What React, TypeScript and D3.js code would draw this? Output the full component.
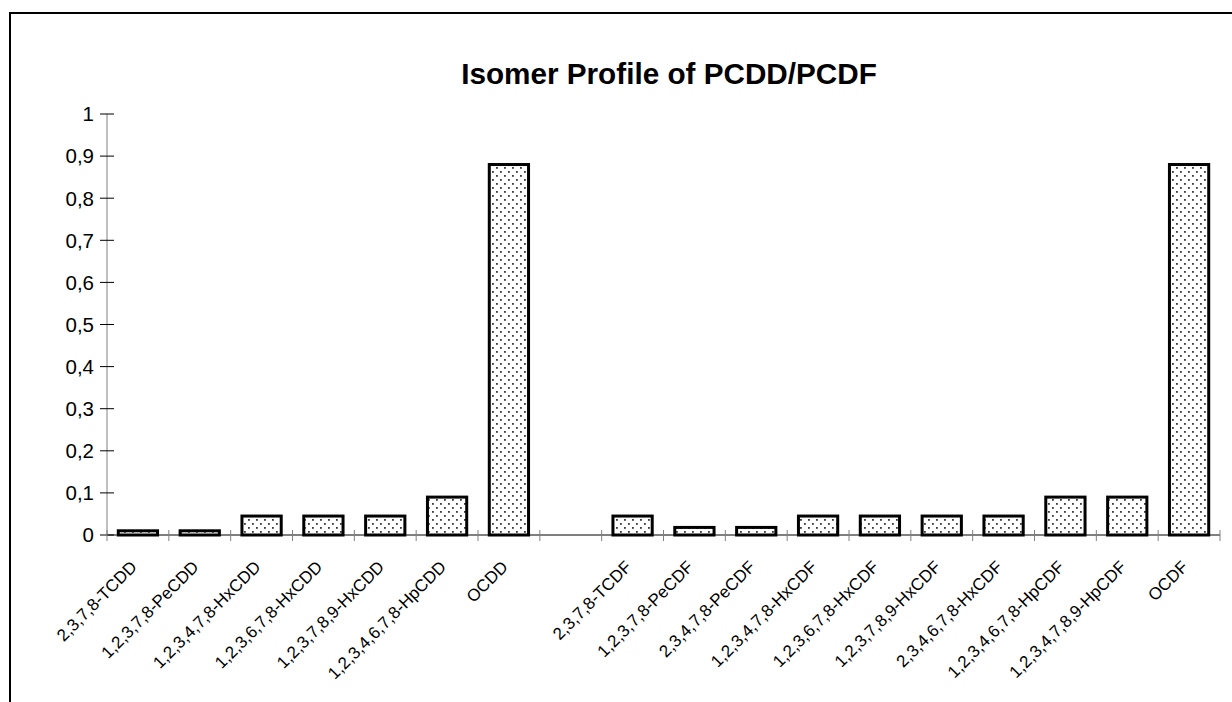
import React, { useEffect, useRef } from 'react';
import * as d3 from 'd3';

// isomer names, "" is the gap between the PCDD and PCDF groups
const categories = [
    '2,3,7,8-TCDD',
    '1,2,3,7,8-PeCDD',
    '1,2,3,4,7,8-HxCDD',
    '1,2,3,6,7,8-HxCDD',
    '1,2,3,7,8,9-HxCDD',
    '1,2,3,4,6,7,8-HpCDD',
    'OCDD',
    '',
    '2,3,7,8-TCDF',
    '1,2,3,7,8-PeCDF',
    '2,3,4,7,8-PeCDF',
    '1,2,3,4,7,8-HxCDF',
    '1,2,3,6,7,8-HxCDF',
    '1,2,3,7,8,9-HxCDF',
    '2,3,4,6,7,8-HxCDF',
    '1,2,3,4,6,7,8-HpCDF',
    '1,2,3,4,7,8,9-HpCDF',
    'OCDF',
];
const values = [
    0.01, 0.01, 0.045, 0.045, 0.045, 0.09, 0.88,
    null,
    0.045, 0.018, 0.018, 0.045, 0.045, 0.045, 0.045, 0.09, 0.09, 0.88,
];
const yTicks = [0, 0.1, 0.2, 0.3, 0.4, 0.5, 0.6, 0.7, 0.8, 0.9, 1];
const title = 'Isomer Profile of PCDD/PCDF';

const App = () => {
    const ref = useRef(null);
    const svgWidth = 1232;
    const svgHeight = 702;

    useEffect(() => {
        const svg = d3.select(ref.current);
        svg.selectAll('*').remove();

        const margin = { top: 114, left: 107, right: 12, bottom: 167 };
        const width = svgWidth - margin.left - margin.right;
        const height = svgHeight - margin.top - margin.bottom;

        // dotted fill like the old spreadsheet pattern
        const defs = svg.append('defs');
        const pat = defs.append('pattern')
            .attr('id', 'dots')
            .attr('patternUnits', 'userSpaceOnUse')
            .attr('width', 8)
            .attr('height', 8);
        pat.append('rect').attr('width', 8).attr('height', 8).attr('fill', '#fff');
        pat.append('rect').attr('x', 1).attr('y', 1).attr('width', 1.8).attr('height', 1.8).attr('fill', '#3a3a3a');
        pat.append('rect').attr('x', 5).attr('y', 5).attr('width', 1.8).attr('height', 1.8).attr('fill', '#3a3a3a');

        // outer frame
        svg.append('rect')
            .attr('x', 10)
            .attr('y', 13)
            .attr('width', 1300)
            .attr('height', 800)
            .attr('fill', 'none')
            .attr('stroke', '#000')
            .attr('stroke-width', 2);

        svg.append('text')
            .attr('x', 669)
            .attr('y', 84)
            .attr('text-anchor', 'middle')
            .style('font-family', 'Liberation Sans, Arial, sans-serif')
            .style('font-weight', 'bold')
            .style('font-size', '29.7px')
            .text(title);

        const xScale = d3.scaleBand()
            .domain(categories.map((c, i) => i + ''))
            .range([0, width]);

        const yScale = d3.scaleLinear()
            .domain([0, 1])
            .range([height, 0]);

        const g = svg.append('g')
            .attr('transform', `translate(${margin.left},${margin.top})`);

        // y axis
        g.append('line')
            .attr('x1', 0).attr('x2', 0)
            .attr('y1', 0).attr('y2', height)
            .attr('stroke', '#808080');
        yTicks.forEach(t => {
            g.append('line')
                .attr('x1', -7).attr('x2', 7)
                .attr('y1', yScale(t)).attr('y2', yScale(t))
                .attr('stroke', '#000');
            g.append('text')
                .attr('x', -13)
                .attr('y', yScale(t))
                .attr('dy', '0.36em')
                .attr('text-anchor', 'end')
                .style('font-family', 'Liberation Sans, Arial, sans-serif')
                .style('font-size', '20.5px')
                .text(String(t).replace('.', ','));
        });

        // bars
        const bw = xScale.bandwidth() * 0.635;
        categories.forEach((c, i) => {
            const v = values[i];
            if (v == null) return;
            const cx = xScale(i + '') + xScale.bandwidth() / 2;
            g.append('rect')
                .attr('x', cx - bw / 2)
                .attr('y', yScale(v))
                .attr('width', bw)
                .attr('height', height - yScale(v))
                .attr('fill', 'url(#dots)')
                .attr('stroke', '#000')
                .attr('stroke-width', 3);
        });

        // x axis
        g.append('line')
            .attr('x1', 0).attr('x2', width)
            .attr('y1', height).attr('y2', height)
            .attr('stroke', '#000');
        d3.range(categories.length + 1).forEach(i => {
            const x = i * xScale.step();
            g.append('line')
                .attr('x1', x).attr('x2', x)
                .attr('y1', height - 5).attr('y2', height + 6)
                .attr('stroke', '#808080');
        });
        categories.forEach((c, i) => {
            const cx = xScale(i + '') + xScale.bandwidth() / 2;
            g.append('text')
                .attr('transform', `translate(${cx},${height + 33}) rotate(-45)`)
                .attr('text-anchor', 'end')
                .style('font-family', 'Liberation Sans, Arial, sans-serif')
                .style('font-size', '17px')
                .text(c);
        });
    }, []);

    return (
        <div>
            <svg ref={ref} width={svgWidth} height={svgHeight}
                style={{ position: 'absolute', left: 0, top: 0, background: '#fff' }}></svg>
        </div>
    );
};

export default App;
